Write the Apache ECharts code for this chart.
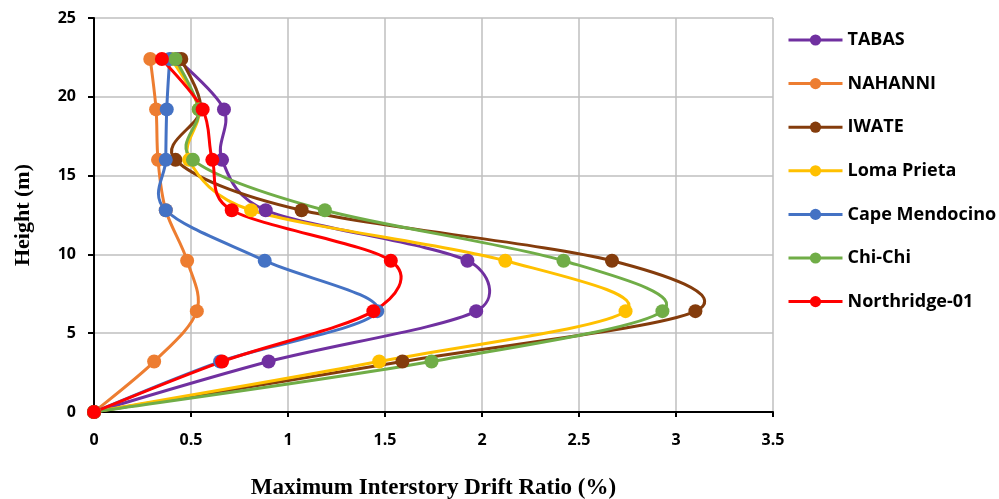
<!DOCTYPE html>
<html>
<head>
<meta charset="utf-8">
<script src="https://cdn.jsdelivr.net/npm/echarts@6/dist/echarts.min.js"></script>
<style>html,body{margin:0;padding:0;background:#fff}#c{width:999px;height:499px}</style>
</head>
<body>
<div id="c"></div>
<script>
var heights = [0, 3.2, 6.4, 9.6, 12.8, 16, 19.2, 22.4];
var seriesNames = ['TABAS', 'NAHANNI', 'IWATE', 'Loma Prieta', 'Cape Mendocino', 'Chi-Chi', 'Northridge-01'];
var tabas        = [0, 0.90, 1.97, 1.925, 0.885, 0.66, 0.67, 0.43];
var nahanni      = [0, 0.31, 0.53, 0.48, 0.37, 0.33, 0.32, 0.29];
var iwate        = [0, 1.59, 3.10, 2.67, 1.07, 0.42, 0.55, 0.45];
var lomaPrieta   = [0, 1.47, 2.74, 2.12, 0.81, 0.49, 0.54, 0.40];
var capeMendocino= [0, 0.65, 1.46, 0.88, 0.37, 0.37, 0.375, 0.39];
var chiChi       = [0, 1.74, 2.93, 2.42, 1.19, 0.51, 0.54, 0.42];
var northridge   = [0, 0.66, 1.44, 1.53, 0.71, 0.61, 0.56, 0.35];
var colors = ['#7030A0', '#ED7D31', '#843C0C', '#FFC000', '#4472C4', '#70AD47', '#FF0000'];

var allData = [tabas, nahanni, iwate, lomaPrieta, capeMendocino, chiChi, northridge];
var chart = echarts.init(document.getElementById('c'));

// Excel-like smooth curve (Catmull-Rom style Bezier, tension 1/6, capped at half segment)
function ctrl(pa, pb, seg) {
  var dx = (pb[0] - pa[0]) / 6, dy = (pb[1] - pa[1]) / 6;
  var l = Math.sqrt(dx * dx + dy * dy);
  var cap = seg / 2;
  if (l > cap && l > 0) { dx *= cap / l; dy *= cap / l; }
  return [dx, dy];
}
function makeRender(xs, color) {
  return function (params, api) {
    if (params.dataIndex !== 0) return null;
    var pts = xs.map(function (x, j) { return api.coord([x, heights[j]]); });
    var children = [];
    for (var i = 0; i < pts.length - 1; i++) {
      var p0 = pts[i - 1] || pts[i], p1 = pts[i], p2 = pts[i + 1], p3 = pts[i + 2] || pts[i + 1];
      var seg = Math.sqrt(Math.pow(p2[0] - p1[0], 2) + Math.pow(p2[1] - p1[1], 2));
      var c1 = ctrl(p0, p2, seg), c2 = ctrl(p1, p3, seg);
      children.push({
        type: 'bezierCurve',
        shape: { x1: p1[0], y1: p1[1], x2: p2[0], y2: p2[1],
          cpx1: p1[0] + c1[0], cpy1: p1[1] + c1[1], cpx2: p2[0] - c2[0], cpy2: p2[1] - c2[1] },
        style: { stroke: color, lineWidth: 3, fill: 'none', lineCap: 'round' }
      });
    }
    return { type: 'group', children: children };
  };
}

var series = [];
seriesNames.forEach(function (name, i) {
  var pts = allData[i].map(function (x, j) { return [x, heights[j]]; });
  series.push({
    name: name,
    type: 'line',
    symbol: 'circle',
    symbolSize: 14,
    lineStyle: { width: 3, color: colors[i], opacity: 0 },
    itemStyle: { color: colors[i] },
    z: 3,
    data: pts
  });
  series.push({
    name: name,
    type: 'custom',
    silent: true,
    renderItem: makeRender(allData[i], colors[i]),
    encode: { x: 0, y: 1 },
    itemStyle: { color: colors[i] },
    z: 2,
    data: pts
  });
});

chart.setOption({
  animation: false,
  color: colors,
  grid: { left: 94, right: 226, top: 18, bottom: 87, containLabel: false, outerBoundsMode: 'none' },
  legend: {
    orient: 'vertical',
    left: 782,
    top: 26,
    itemGap: 25.6,
    itemWidth: 54,
    itemHeight: 14,
    lineStyle: { width: 3, opacity: 1 },
    textStyle: { fontFamily: 'Open Sans', fontWeight: 'bold', fontSize: 18, color: '#000' },
    data: seriesNames
  },
  xAxis: {
    type: 'value',
    min: 0, max: 3.5, interval: 0.5,
    name: 'Maximum Interstory Drift Ratio (%)',
    nameLocation: 'middle',
    nameGap: 65,
    nameTextStyle: { fontFamily: 'Liberation Serif', fontWeight: 'bold', fontSize: 23, color: '#000' },
    axisLine: { show: true, onZero: false, lineStyle: { color: '#000', width: 2 } },
    axisTick: { show: true, length: 5, lineStyle: { color: '#000', width: 2 } },
    axisLabel: { margin: 20, fontFamily: 'Open Sans', fontWeight: 'bold', fontSize: 16, color: '#000',
      formatter: function (v) { return String(v); } },
    splitLine: { show: true, lineStyle: { color: '#BFBFBF', width: 1.5 } }
  },
  yAxis: {
    type: 'value',
    min: 0, max: 25, interval: 5,
    name: 'Height (m)',
    nameLocation: 'middle',
    nameGap: 60,
    nameTextStyle: { fontFamily: 'Liberation Serif', fontWeight: 'bold', fontSize: 22, color: '#000' },
    axisLine: { show: true, onZero: false, lineStyle: { color: '#000', width: 2 } },
    axisTick: { show: true, length: 6, lineStyle: { color: '#000', width: 2 } },
    axisLabel: { margin: 18, fontFamily: 'Open Sans', fontWeight: 'bold', fontSize: 16, color: '#000' },
    splitLine: { show: true, lineStyle: { color: '#BFBFBF', width: 1.5 } }
  },
  series: series
});
</script>
</body>
</html>
